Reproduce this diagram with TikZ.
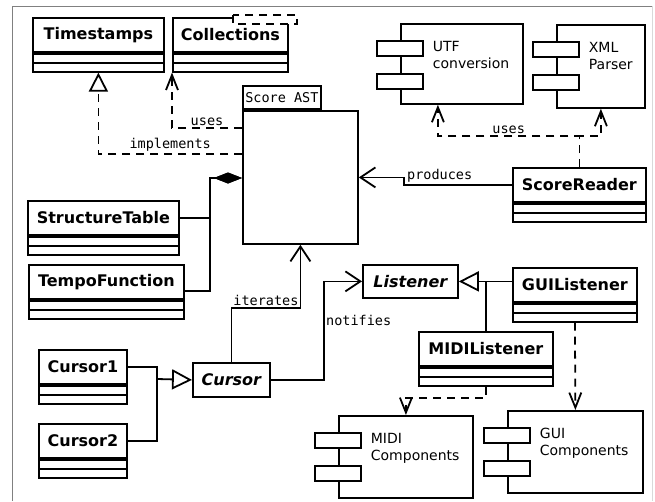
\documentclass[tikz,border=0pt]{standalone}
\usepackage{fontspec}
\setmainfont{DejaVu Sans}
\setmonofont{DejaVu Sans Mono}
\usetikzlibrary{arrows.meta}

\begin{document}
\begin{tikzpicture}[x=1pt, y=-1pt, line width=1.8pt,
        clsname/.style={draw, fill=white, inner sep=0pt, font=\fontsize{16}{19}\selectfont\bfseries},
        clsops/.style={draw, fill=white, inner sep=0pt, minimum height=18pt},
        box/.style={draw, fill=white, inner sep=0pt},
        comptext/.style={align=left, inner sep=0pt, font=\fontsize{14}{17}\selectfont},
        tag/.style={inner sep=1.5pt, font=\fontsize{13.5}{16}\ttfamily},
        dashline/.style={dash pattern=on 8pt off 6pt},
        assoc/.style={-{Straight Barb[length=15pt,width=20pt]}},
        depend/.style={dashline, -{Straight Barb[length=15pt,width=12pt]}},
        realize/.style={dashline, -{Triangle[open,length=19pt,width=19pt]}},
        inherit/.style={-{Triangle[open,length=20pt,width=20pt]}},
        compose/.style={-{Diamond[length=28pt,width=11pt]}}]
    \useasboundingbox (0,0) rectangle (655,501);
    \draw[line width=1pt, gray] (12,501) -- (12,6) -- (652,6);
    \draw[line width=1pt, gray!30] (652,6) -- (652,501);

    % Draw a class #1 at #2,#3 with width #4 and name #5
    \def\umlClass#1#2#3#4#5{
        \node[clsname, minimum width=#4, minimum height=34, anchor=north west] (#1) at (#2,#3) {#5};
        \node[clsops, minimum width=#4, anchor=north] (#1-ops) at (#1.south) {};
        \draw (#1-ops.west) -- (#1-ops.east);
    }
    % Draw a component #1 at #2,#3 with size #4 x #5 and text #6
    \def\umlComp#1#2#3#4#5#6{
        \node[box, minimum width=#4, minimum height=#5, anchor=north west] (#1) at (#2,#3) {};
        \node[box, minimum width=46, minimum height=15, anchor=north west] (#1-a) at ([xshift=-24,yshift=-17]#1.north west) {};
        \node[box, minimum width=46, minimum height=15, anchor=north west] (#1-b) at ([xshift=-24,yshift=-50]#1.north west) {};
        \node[comptext, anchor=north west] (#1-t) at ([xshift=32,yshift=-17]#1.north west) {#6};
    }

    \umlClass{ts}{32}{17}{131}{Timestamps}
    \umlClass{col}{172}{17}{115}{Collections}
    \draw[line width=1.5pt, dashline, fill=white] (233,15) rectangle (297,24);
    \umlClass{st}{27}{200}{151}{StructureTable}
    \umlClass{tf}{28}{264}{155}{TempoFunction}
    \umlClass{c1}{38}{349}{88}{Cursor1}
    \umlClass{c2}{38}{423}{88}{Cursor2}
    \umlClass{sr}{512}{167}{133}{ScoreReader}
    \umlClass{gl}{512}{267}{124}{GUIListener}
    \umlClass{ml}{418}{331}{134}{MIDIListener}

    \node[clsname, font=\fontsize{16}{19}\selectfont\bfseries\itshape, minimum width=77, minimum height=34, anchor=north west] (cur) at (192,362) {Cursor};
    \node[clsname, font=\fontsize{16}{19}\selectfont\bfseries\itshape, minimum width=95, minimum height=33, anchor=north west] (lis) at (362,264) {Listener};

    \node[box, minimum width=115, minimum height=133, anchor=north west] (ast) at (242,110) {};
    \node[box, minimum width=78, minimum height=23, anchor=south west, font=\fontsize{13.5}{16}\ttfamily] (ast-tab) at (ast.north west) {Score AST};

    \umlComp{utf}{400}{23}{122}{80}{UTF\\conversion}
    \umlComp{xml}{556}{24}{88}{83}{XML\\Parser}
    \umlComp{midi}{338}{415}{134}{82}{MIDI\\Components}
    \umlComp{gui}{507}{410}{135}{82}{GUI\\Components}

    \coordinate (comp) at (210,178);
    \coordinate (cj) at (157,379);
    \coordinate (lj) at (ml.north |- lis.east);

    \draw[realize] ([yshift=23.5]ast.west) -| node[tag, pos=0.25, above] {implements} (ts-ops.south);
    \draw[depend] ([yshift=49.5]ast.west) -| node[tag, pos=0.25, above] {uses} (col-ops.south west);
    \draw[compose] (st.east) -| (comp) -- (ast.west |- comp);
    \draw[compose] ([yshift=-9]tf.east) -| (comp) -- (ast.west |- comp);
    \draw[assoc] (sr.west) -- node[tag, pos=0.67, above] {produces} ++(-108,0) |- (ast.east);
    \draw[depend] (sr.north) -- ++(0,-31) -| node[tag, pos=0.25, above] {uses} ([xshift=-24]utf.south);
    \draw[depend] (sr.north) -- ++(0,-31) -| (xml.south);
    \draw[assoc] (cur.north) -- ++(0,-54) -| node[tag, pos=0.25, above] {iterates} (ast.south);
    \draw[assoc] (cur.east) -- ++(53,0) |- node[tag, pos=0.3, right] {notifies} (lis.west);
    \draw (c1.east) -| (cj);
    \draw (c2.east) -| (cj);
    \draw[inherit] (cj) -- (cur.west);
    \draw[inherit] (gl.west |- lis.east) -- (lis.east);
    \draw (ml.north) -- (lj);
    \draw[depend] (ml-ops.south) -- ++(0,11) -| (midi.north);
    \draw[depend] (gl-ops.south) -- (gui.north);
\end{tikzpicture}
\end{document}
